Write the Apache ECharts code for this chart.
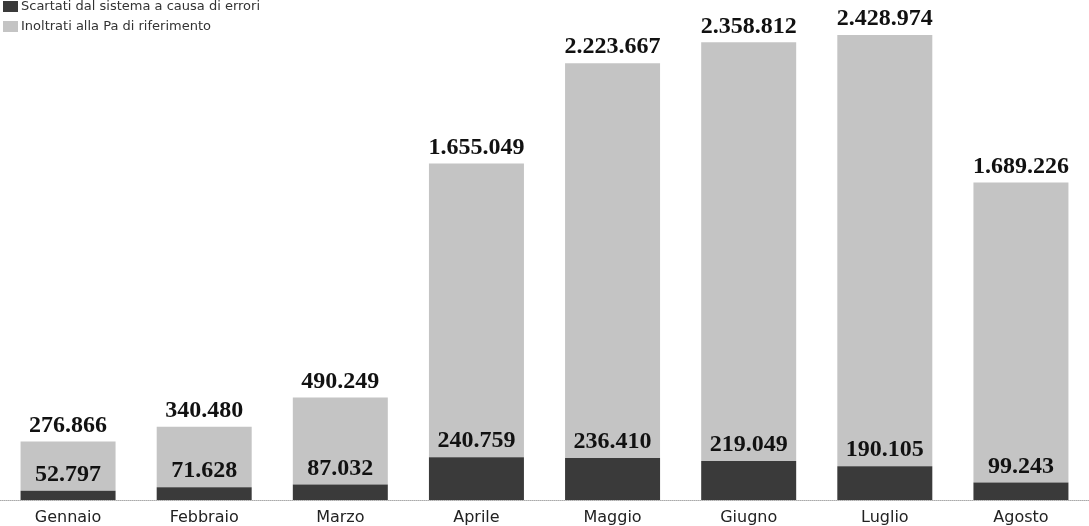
<!DOCTYPE html>
<html>
<head>
<meta charset="utf-8">
<script src="https://cdn.jsdelivr.net/npm/echarts@6/dist/echarts.min.js"></script>
<style>
  html, body { margin: 0; padding: 0; background: #fff; }
  #chart { width: 1089px; height: 526px; }
</style>
</head>
<body>
<div id="chart"></div>
<script>
var mesi = ['Gennaio', 'Febbraio', 'Marzo', 'Aprile', 'Maggio', 'Giugno', 'Luglio', 'Agosto'];
var scartati = [52797, 71628, 87032, 240759, 236410, 219049, 190105, 99243];
var inoltrati = [276866, 340480, 490249, 1655049, 2223667, 2358812, 2428974, 1689226];

// formato italiano con il punto come separatore delle migliaia
function fmt(v) {
  return String(v).replace(/\B(?=(\d{3})+(?!\d))/g, '.');
}

var chart = echarts.init(document.getElementById('chart'));
var etichetta = {
  show: true,
  position: 'top',
  distance: 4,
  fontFamily: 'Liberation Serif',
  fontWeight: 'bold',
  fontSize: 24,
  color: '#111',
  formatter: function (p) { return fmt(p.value); }
};

var option = {
  animation: false,
  backgroundColor: '#fff',
  legend: {
    orient: 'vertical',
    left: -2,
    top: -5,
    icon: 'rect',
    itemWidth: 15,
    itemHeight: 11,
    itemGap: 7,
    textStyle: { fontFamily: 'DejaVu Sans', fontSize: 13, color: '#333', padding: [0, 0, 0, -2] },
    data: ['Scartati dal sistema a causa di errori', 'Inoltrati alla Pa di riferimento']
  },
  grid: { left: -3, width: 1099, top: 35, bottom: 25, containLabel: false },
  xAxis: {
    type: 'category',
    data: mesi,
    axisTick: { show: false },
    axisLine: { lineStyle: { color: '#aaa', type: 'dotted', width: 1 } },
    axisLabel: { fontFamily: 'DejaVu Sans', fontSize: 16, color: '#222', margin: 10 }
  },
  yAxis: {
    type: 'value',
    min: 0,
    max: 2619079,
    show: false,
    splitLine: { show: false }
  },
  series: [
    {
      name: 'Scartati dal sistema a causa di errori',
      type: 'bar',
      stack: 'tot',
      barWidth: 95,
      data: scartati,
      itemStyle: { color: '#3a3a3a' },
      label: etichetta,
      z: 3
    },
    {
      name: 'Inoltrati alla Pa di riferimento',
      type: 'bar',
      stack: 'tot',
      barWidth: 95,
      data: inoltrati,
      itemStyle: { color: '#c4c4c4' },
      label: etichetta,
      z: 2
    }
  ]
};
chart.setOption(option);
</script>
</body>
</html>
